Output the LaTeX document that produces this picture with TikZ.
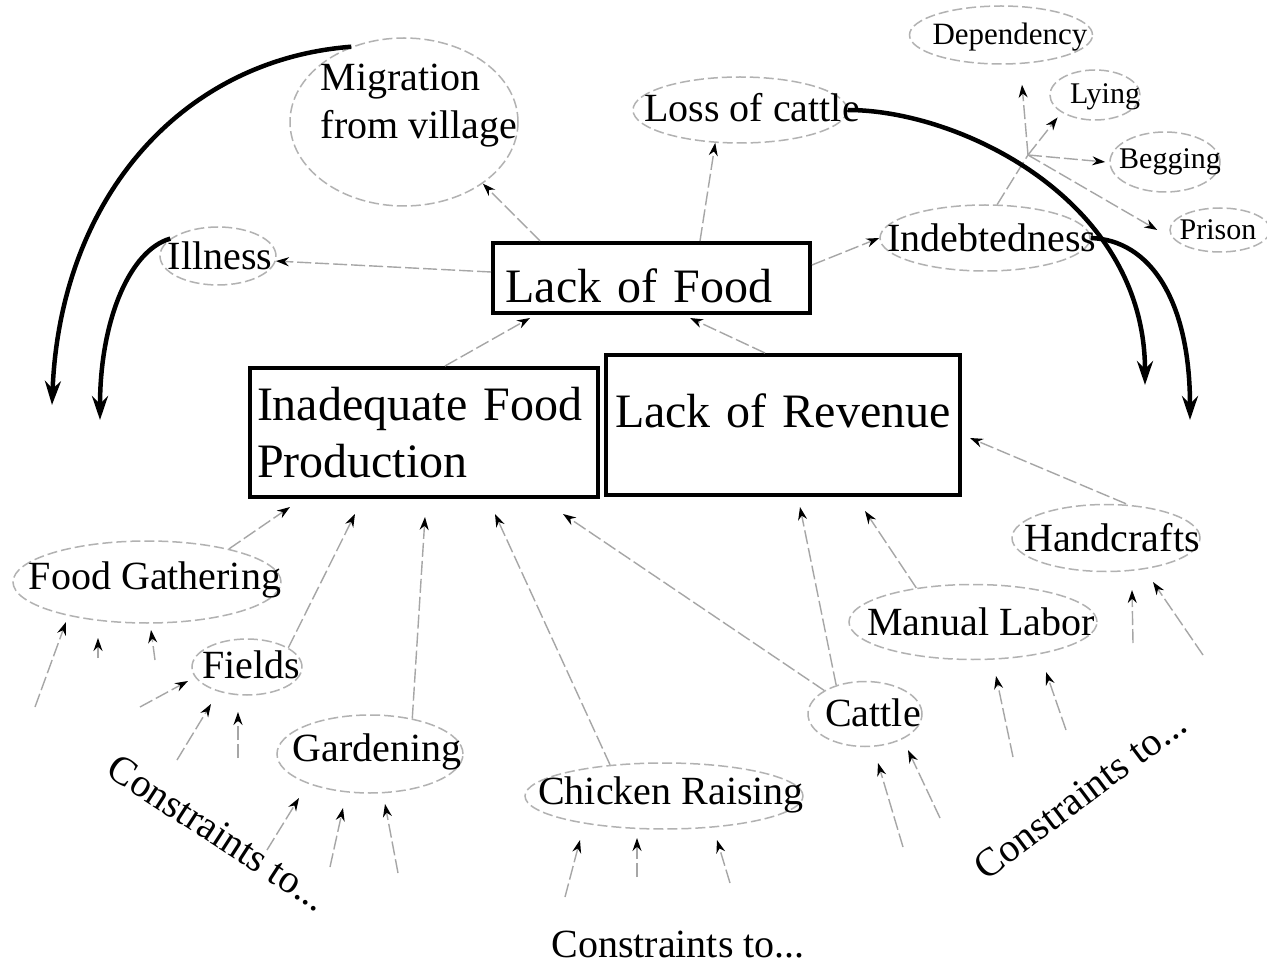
\documentclass[tikz,border=0pt]{standalone}
\usepackage{fontspec}
\setmainfont{Liberation Serif}
\usetikzlibrary{arrows.meta,shapes.geometric}
\begin{document}
\begin{tikzpicture}[x=1pt,y=-1pt]
\tikzset{
 oval/.style={ellipse, draw=gray!60, dash pattern=on 10pt off 4pt, line width=1.5pt, inner sep=0pt},
 lbl/.style={inner sep=0pt, font=\fontsize{40}{48}\selectfont},
 sml/.style={inner sep=0pt, font=\fontsize{30}{34}\selectfont},
 bigbox/.style={draw=black, line width=4pt, inner sep=0pt, font=\fontsize{48}{57}\selectfont, align=left},
 link/.style={draw=gray!70, line width=1.4pt, dash pattern=on 14pt off 4pt, -{Stealth[length=13pt,width=9pt,color=black]}},
 heavy/.style={line width=4.5pt, -{Stealth[length=24pt,width=16pt]}},
}
\fill[white] (0,0) rectangle (1267,973);
\useasboundingbox (0,0) rectangle (1267,973);

% ellipses
\node[oval, minimum width=228pt, minimum height=168pt] (mig) at (404,122) {};
\node[oval, minimum width=214pt, minimum height=66pt] (loss) at (740,110) {};
\node[oval, minimum width=183pt, minimum height=58pt] (dep) at (1001,35) {};
\node[oval, minimum width=90pt, minimum height=50pt] (lying) at (1095,95) {};
\node[oval, minimum width=110pt, minimum height=60pt] (beg) at (1165,162) {};
\node[oval, minimum width=100pt, minimum height=44pt] (pris) at (1220,230) {};
\node[oval, minimum width=210pt, minimum height=66pt] (indeb) at (985,238) {};
\node[oval, minimum width=116pt, minimum height=58pt] (ill) at (218,256) {};
\node[oval, minimum width=268pt, minimum height=82pt] (fg) at (147,582) {};
\node[oval, minimum width=110pt, minimum height=56pt] (fld) at (247,667) {};
\node[oval, minimum width=186pt, minimum height=78pt] (gard) at (370,754) {};
\node[oval, minimum width=278pt, minimum height=66pt] (chick) at (664,796) {};
\node[oval, minimum width=114pt, minimum height=65pt] (cat) at (865,714) {};
\node[oval, minimum width=248pt, minimum height=75pt] (man) at (973,622) {};
\node[oval, minimum width=188pt, minimum height=67pt] (hand) at (1106,538) {};

% texts
\node[lbl, align=left] (migt) at (419,106) {Migration\\from village};
\node[lbl] (losst) at (752,108) {Loss of cattle};
\node[sml, font=\fontsize{31}{34}\selectfont] (dept) at (1010,37) {Dependency};
\node[sml] (lyingt) at (1105,97) {Lying};
\node[sml] (begt) at (1170,162) {Begging};
\node[sml] (prist) at (1218,230) {Prison};
\node[lbl] (indebt) at (992,238) {Indebtedness};
\node[lbl] (illt) at (220,256) {Illness};
\node[lbl] (fgt) at (155,580) {Food Gathering};
\node[lbl] (fldt) at (251,665) {Fields};
\node[lbl] (gardt) at (377,752) {Gardening};
\node[lbl] (chickt) at (671,795) {Chicken Raising};
\node[lbl] (catt) at (873,713) {Cattle};
\node[lbl] (mant) at (981,622) {Manual Labor};
\node[lbl] (handt) at (1112,538) {Handcrafts};
\node[lbl, rotate=-33] (ctl) at (218,833) {Constraints to...};
\node[lbl] (ctb) at (678,945) {Constraints to...};
\node[lbl, rotate=37] (ctr) at (1080,795) {Constraints to...};

% boxes
\node[bigbox, minimum width=317pt, minimum height=70pt, text width=292pt, text height=50pt] (lof) at (651.5,278) {Lack of Food};
\node[bigbox, minimum width=348pt, minimum height=129pt, text width=334pt] (ifp) at (424,432.5) {Inadequate Food\\Production};
\node[bigbox, minimum width=354pt, minimum height=140pt, text width=336pt, text depth=28pt] (lor) at (783,425) {Lack of Revenue};

% main connectors
\draw[link] ([xshift=-111.5pt]lof.north) -- (mig.-38);
\draw[link] ([xshift=48.5pt]lof.north) -- (loss.-127);
\draw[link] ([yshift=6pt]lof.west) -- (ill.-5);
\draw[link] ([yshift=13pt]lof.east) -- (indeb.west);
\draw[link] ([xshift=21pt]ifp.north) -- ([xshift=-121.5pt,yshift=-3pt]lof.south);
\draw[link] ([xshift=-18pt]lor.north) -- ([xshift=38.5pt,yshift=-3pt]lof.south);
\draw[link] ([xshift=20pt]hand.north) -- ([xshift=8pt,yshift=-13pt]lor.east);
\draw[link] (man.149) -- ([xshift=82pt,yshift=-14pt]lor.south);
\draw[link] (cat.135) -- ([xshift=17pt,yshift=-10pt]lor.south);
\draw[link] (cat.150) -- ([xshift=139pt,yshift=-15pt]ifp.south);
\draw[link] (chick.150) -- ([xshift=71pt,yshift=-15pt]ifp.south);
\draw[link] (gard.40) -- ([xshift=1pt,yshift=-18pt]ifp.south);
\draw[link] (fld.25) -- ([xshift=-69pt,yshift=-15pt]ifp.south);
\draw[link] (fg.22) -- ([xshift=-134pt,yshift=-8pt]ifp.south);

% indebtedness fan
\coordinate (hub) at (1028,155);
\draw[link, -] (indeb.70) -- (hub);
\draw[link] (hub) -- ([xshift=21pt,yshift=-20pt]dep.south);
\draw[link] (hub) -- ([xshift=-15pt]lying.225);
\draw[link] (hub) -- ([xshift=-4pt]beg.west);
\draw[link] (hub) -- ([xshift=-12pt]pris.west);

% constraint inputs
\coordinate (c1) at (35,707);   \draw[link] (c1) -- ([shift={(-81,40)}]fg.center);
\coordinate (c2) at (98,658);   \draw[link] (c2) -- ([shift={(-49,56)}]fg.center);
\coordinate (c3) at (155,660);  \draw[link] (c3) -- ([shift={(4,48)}]fg.center);
\coordinate (c4) at (140,707);  \draw[link] (c4) -- ([shift={(-59,14)}]fld.center);
\coordinate (c5) at (177,760);  \draw[link] (c5) -- ([shift={(-36,37)}]fld.center);
\coordinate (c6) at (238,758);  \draw[link] (c6) -- ([shift={(-9,45)}]fld.center);
\coordinate (c7) at (267,850);  \draw[link] (c7) -- ([shift={(-71,44)}]gard.center);
\coordinate (c8) at (330,867);  \draw[link] (c8) -- ([shift={(-27,54)}]gard.center);
\coordinate (c9) at (398,873);  \draw[link] (c9) -- ([shift={(15,50)}]gard.center);
\coordinate (c10) at (565,897); \draw[link] (c10) -- ([shift={(-84,44)}]chick.center);
\coordinate (c11) at (637,877); \draw[link] (c11) -- ([shift={(-27,42)}]chick.center);
\coordinate (c12) at (730,883); \draw[link] (c12) -- ([shift={(53,44)}]chick.center);
\coordinate (c13) at (903,847); \draw[link] (c13) -- ([shift={(13,49)}]cat.center);
\coordinate (c14) at (940,818); \draw[link] (c14) -- ([shift={(43,36)}]cat.center);
\coordinate (c15) at (1013,757); \draw[link] (c15) -- ([shift={(23,54)}]man.center);
\coordinate (c16) at (1066,730); \draw[link] (c16) -- ([shift={(73,50)}]man.center);
\coordinate (c17) at (1133,643); \draw[link] (c17) -- ([shift={(26,52)}]hand.center);
\coordinate (c18) at (1203,655); \draw[link] (c18) -- ([shift={(47,44)}]hand.center);

% heavy curved arrows
\coordinate (lA) at (52,405);
\coordinate (lB) at (100,420);
\coordinate (rA) at (1145,385);
\coordinate (rB) at (1190,420);
\draw[heavy] (mig.125) .. controls (180,60) and (60,200) .. (lA);
\draw[heavy] (ill.160) .. controls (130,250) and (100,320) .. (lB);
\draw[heavy] (loss.east) .. controls (960,110) and (1145,200) .. (rA);
\draw[heavy] (indeb.east) .. controls (1150,240) and (1190,300) .. (rB);
\end{tikzpicture}
\end{document}
